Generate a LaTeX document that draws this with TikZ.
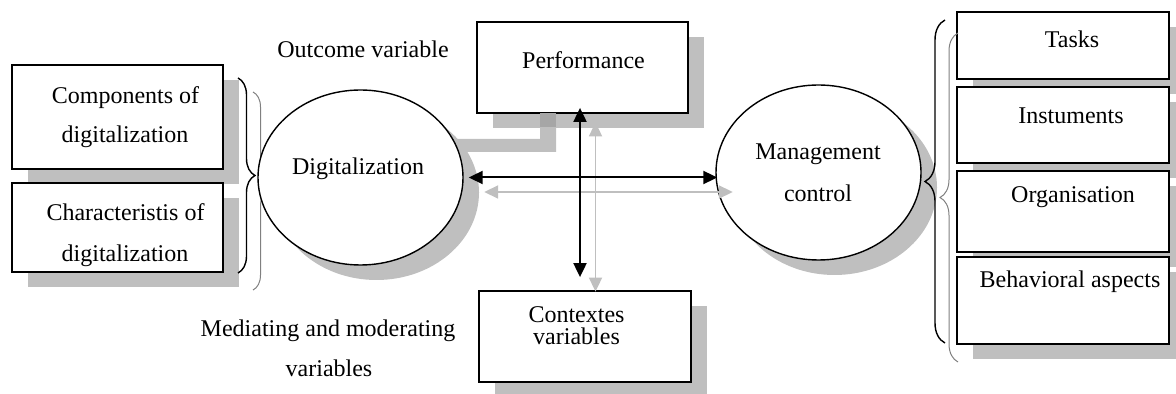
\documentclass[tikz,border=0pt]{standalone}
\usepackage{fontspec}
\setmainfont{Liberation Serif}
\usetikzlibrary{arrows.meta,shadows,decorations.pathreplacing,shapes.geometric}

\begin{document}
\begin{tikzpicture}[x=0.5pt,y=-0.5pt,
  font=\fontsize{12}{14}\selectfont,
  boxshade/.style={drop shadow={shadow xshift=8pt,shadow yshift=-7.5pt,fill=black!25,opacity=1}},
  box/.style={rectangle,draw,line width=0.9pt,fill=white,inner sep=0pt,boxshade},
  oval/.style={ellipse,draw,line width=0.7pt,fill=white,inner sep=0pt,
    minimum width=102.5pt,minimum height=87.5pt,boxshade},
  txt/.style={anchor=base,inner sep=0pt},
  tip/.tip={Triangle[length=7pt,width=6.5pt]},
  link/.style={line width=1pt,tip-tip},
  ghost/.style={line width=0.9pt,draw=black!25,tip-tip,
    transform canvas={shift={(7.75pt,-7.25pt)}}},
  bracket/.style={decorate,decoration={brace,amplitude=#1}},
]
\useasboundingbox (0,0) rectangle (1176,394);

% shadow band running from the performance box towards the left oval
\fill[black!25] (540,113) -- (556,113) -- (556,152) -- (440,152)
  -- (440,139) -- (540,139) -- cycle;

% left column
\node[box,minimum width=105.5pt,minimum height=52pt] (comp) at (117.5,117) {};
\node[box,minimum width=105.5pt,minimum height=44.5pt] (char) at (117.5,227.5) {};
\node[txt] (comp-a) at (125.5,104) {Components of};
\node[txt] (comp-b) at (125,143) {digitalization};
\node[txt] (char-a) at (125.5,221) {Characteristis of};
\node[txt] (char-b) at (125,262) {digitalization};

% braces on the left
\draw[black!50,line width=0.5pt,bracket=7.5pt] (253,92) -- (253,290);
\draw[line width=0.7pt,bracket=8.5pt] (238,78) -- (238,273);

% centre column
\node[box,minimum width=105.5pt,minimum height=45.5pt] (perf) at (582.5,67.5) {};
\fill[black!35] (540,113) rectangle (556,127);
\node[txt] (perf-t) at (583.5,69) {Performance};
\node[box,minimum width=106pt,minimum height=45.5pt] (ctx) at (585,336.5) {};
\node[txt] (ctx-a) at (576.5,323) {Contextes};
\node[txt] (ctx-b) at (576.5,345) {variables};

\node[txt] (outcome) at (363,58) {Outcome variable};
\node[txt] (med-a) at (328,337) {Mediating and moderating};
\node[txt] (med-b) at (329,377) {variables};

% ovals
\node[oval] (digit) at (360.5,177.5) {};
\node[txt] (digit-t) at (358,175) {Digitalization};
\node[oval] (mgmt) at (818.5,172.5) {};
\node[txt] (mgmt-a) at (818,160) {Management};
\node[txt] (mgmt-b) at (818,202) {control};

% right column
\node[box,minimum width=106pt,minimum height=33.5pt] (tasks) at (1063,45.5) {};
\node[box,minimum width=106pt,minimum height=38pt] (inst) at (1063,125) {};
\node[box,minimum width=106pt,minimum height=40.5pt] (org) at (1063,211.5) {};
\node[box,minimum width=106pt,minimum height=43.5pt] (beh) at (1063,300.5) {};
\node[txt] (tasks-t) at (1072,48) {Tasks};
\node[txt] (inst-t) at (1071,124) {Instuments};
\node[txt] (org-t) at (1073,203) {Organisation};
\node[txt] (beh-t) at (1070,288) {Behavioral aspects};

% braces on the right
\draw[black!50,line width=0.5pt,bracket=9pt] (958,362) -- (958,33);
\draw[line width=0.7pt,bracket=10pt] (945,343) -- (945,20);

% connectors and their shadows
\draw[ghost] ([xshift=2.5pt]digit.east) -- ([xshift=1pt,yshift=-2.5pt]mgmt.west);
\draw[ghost] ([xshift=-1.25pt,yshift=3pt]perf.south) -- ([xshift=-2.5pt,yshift=6.5pt]ctx.north);
\draw[link] ([xshift=2.5pt]digit.east) -- ([xshift=1pt,yshift=-2.5pt]mgmt.west);
\draw[link] ([xshift=-1.25pt,yshift=3pt]perf.south) -- ([xshift=-2.5pt,yshift=6.5pt]ctx.north);
\end{tikzpicture}
\end{document}
